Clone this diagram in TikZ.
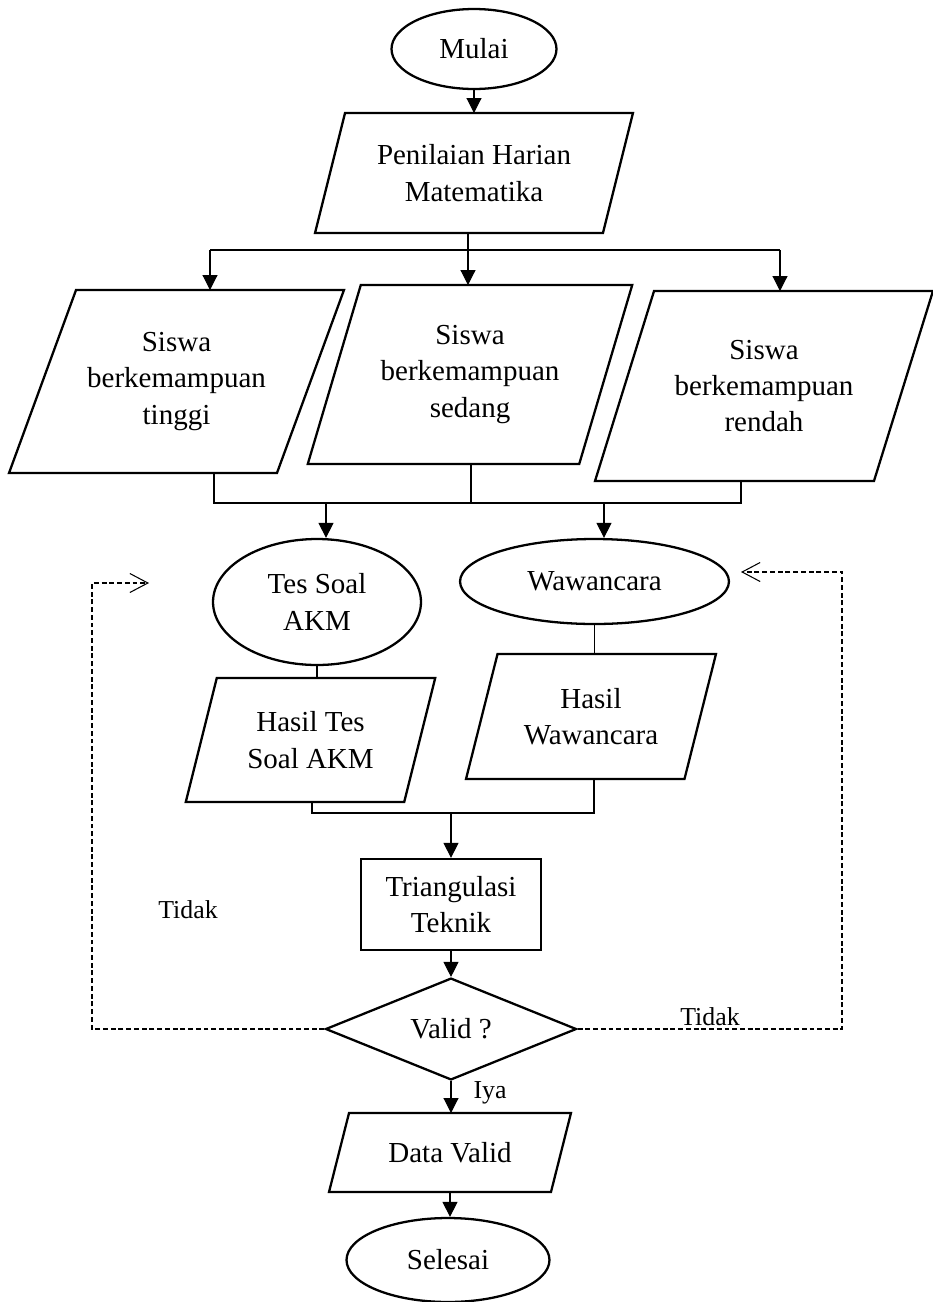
\documentclass[tikz,border=0pt]{standalone}
\usepackage{fontspec}
\setmainfont{Liberation Serif}
\usetikzlibrary{shapes.geometric,arrows.meta}

\tikzset{
  mulaiselesai/.style={draw, ellipse, line width=1.3pt, inner sep=0pt, align=center},
  isian/.style={rectangle, inner sep=0pt, outer sep=0pt, align=center},
  tepi/.style={line width=1.3pt, line join=miter},
  proses/.style={draw, rectangle, line width=1.3pt, inner sep=0pt, align=center},
  putusan/.style={draw, diamond, line width=1.3pt, inner sep=0pt, align=center},
  garis/.style={line width=0.6pt},
  panah/.style={garis, -{Triangle[length=0.3cm,width=0.3cm]}},
  balik/.style={garis, dash pattern=on 2.8pt off 1.6pt, -{Straight Barb[length=0.36cm,width=0.38cm]}},
  ket/.style={font=\fontsize{14.7}{17}\selectfont}
}

% parallelogram round a node: #1 node name, #2 half of the slant
\newcommand{\jajargenjang}[2]{%
  \draw[tepi] ([xshift=-#2]#1.south west) -- ([xshift=#2]#1.north west)
    -- ([xshift=#2]#1.north east) -- ([xshift=-#2]#1.south east) -- cycle;}

\begin{document}
\begin{tikzpicture}[x=0.02cm, y=-0.02cm, every node/.style={font=\fontsize{16.5}{20.6}\selectfont}]
                \useasboundingbox (0,0) rectangle (933,1302);

                %Draw the start and the daily test
                \node[mulaiselesai, minimum width=3.3cm, minimum height=1.6cm] (mulai) at (474,49) {Mulai};
                \node[isian, minimum width=5.76cm, minimum height=2.4cm] (penilaian) at (474,173) {Penilaian Harian\\Matematika};
                \jajargenjang{penilaian}{0.3cm}

                %Draw the three groups of students
                \node[isian, minimum width=5.36cm, minimum height=3.66cm] (tinggi) at (176.5,381.5) {Siswa\\berkemampuan\\tinggi};
                \node[isian, minimum width=5.43cm, minimum height=3.58cm] (sedang) at (470,374.5) {Siswa\\berkemampuan\\sedang};
                \node[isian, minimum width=5.58cm, minimum height=3.8cm] (rendah) at (764,386) {Siswa\\berkemampuan\\rendah};
                \jajargenjang{tinggi}{0.67cm}
                \jajargenjang{sedang}{0.53cm}
                \jajargenjang{rendah}{0.59cm}

                %Draw the test and the interview
                \node[mulaiselesai, minimum width=4.16cm, minimum height=2.52cm] (tes) at (317,602) {Tes Soal\\AKM};
                \node[mulaiselesai, minimum width=5.38cm, minimum height=1.7cm] (waw) at (594.5,581.5) {Wawancara};
                \node[isian, minimum width=4.37cm, minimum height=2.48cm] (hasiltes) at (310.5,740) {Hasil Tes\\Soal AKM};
                \node[isian, minimum width=4.37cm, minimum height=2.5cm] (hasilwaw) at (591,716.5) {Hasil\\Wawancara};
                \jajargenjang{hasiltes}{0.31cm}
                \jajargenjang{hasilwaw}{0.315cm}

                %Draw the triangulation, the check and the end
                \node[proses, minimum width=3.6cm, minimum height=1.82cm] (tri) at (451,904.5) {Triangulasi\\Teknik};
                \node[putusan, minimum width=5.02cm, minimum height=2cm] (valid) at (451,1029) {Valid ?};
                \node[isian, minimum width=4.44cm, minimum height=1.58cm] (datavalid) at (450,1152.5) {Data Valid};
                \jajargenjang{datavalid}{0.2cm}
                \node[mulaiselesai, minimum width=4.06cm, minimum height=1.68cm] (selesai) at (448,1260) {Selesai};

                %Labels of the branches
                \node[ket] (tidakkiri) at (188,910) {Tidak};
                \node[ket] (tidakkanan) at (710,1017) {Tidak};
                \node[ket] (iya) at (490,1093) {Iya};

                %Split the daily test into three groups
                \coordinate (bagi) at (468,250);
                \coordinate (bagikiri) at (210,250);
                \coordinate (bagikanan) at (780,250);
                \draw[panah] (mulai.south) -- (mulai.south |- penilaian.north);
                \draw[garis] (penilaian.south -| bagi) -- (bagi);
                \draw[garis] (bagikiri) -- (bagikanan);
                \draw[panah] (bagi) -- (bagi |- sedang.north);
                \draw[panah] (bagikiri) -- (bagikiri |- tinggi.north);
                \draw[panah] (bagikanan) -- (bagikanan |- rendah.north);

                %Join the three groups
                \coordinate (gabungkiri) at (214,503);
                \coordinate (gabungtengah) at (471,503);
                \coordinate (gabungkanan) at (741,503);
                \coordinate (ketes) at (326,503);
                \coordinate (kewaw) at (604,503);
                \draw[garis] (gabungkiri |- tinggi.south) -- (gabungkiri) -- (gabungkanan) -- (gabungkanan |- rendah.south);
                \draw[garis] (gabungtengah |- sedang.south) -- (gabungtengah);
                \draw[panah] (ketes) -- (ketes |- tes.north);
                \draw[panah] (kewaw) -- (kewaw |- waw.north);

                %Results into the triangulation
                \coordinate (hasilkiri) at (312,813);
                \coordinate (hasilkanan) at (594,813);
                \draw[garis] (tes.south) -- (tes.south |- hasiltes.north);
                \draw[garis] (waw.south) -- (waw.south |- hasilwaw.north);
                \draw[garis] (hasilkiri |- hasiltes.south) -- (hasilkiri) -- (hasilkanan) -- (hasilkanan |- hasilwaw.south);
                \draw[panah] (hasilkiri -| tri.north) -- (tri.north);
                \draw[panah] (tri) -- (valid);
                \draw[panah] (valid.south) -- (valid.south |- datavalid.north);
                \draw[panah] (datavalid.south) -- (datavalid.south |- selesai.north);

                %Draw the way back when not valid
                \coordinate (belokkiri) at (92,583);
                \coordinate (ujungkiri) at (149,583);
                \coordinate (belokkanan) at (842,572);
                \coordinate (ujungkanan) at (741,572);
                \draw[balik] (valid.west) -| (belokkiri) -- (ujungkiri);
                \draw[balik] (valid.east) -| (belokkanan) -- (ujungkanan);

            \end{tikzpicture}
\end{document}
